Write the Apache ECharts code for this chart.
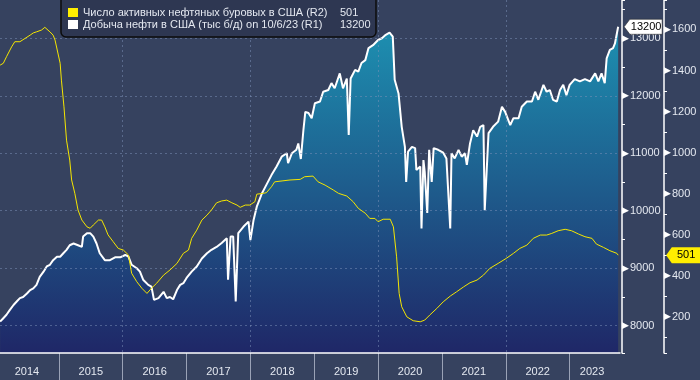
<!DOCTYPE html>
<html>
<head>
<meta charset="utf-8">
<script src="https://cdn.jsdelivr.net/npm/echarts@6/dist/echarts.min.js"></script>
<style>
html,body{margin:0;padding:0;background:#36425f;}
#c{width:700px;height:380px;}
</style>
</head>
<body>
<div id="c"></div>
<script>
// ---- Data (x = decimal year) ----
const prodX = [2014.08,2014.13,2014.18,2014.23,2014.29,2014.34,2014.39,2014.44,2014.50,2014.55,2014.60,2014.65,2014.70,2014.76,2014.81,2014.86,2014.91,2014.97,2015.02,2015.07,2015.12,2015.17,2015.23,2015.30,2015.36,2015.38,2015.44,2015.49,2015.54,2015.59,2015.64,2015.72,2015.80,2015.88,2015.96,2016.04,2016.09,2016.14,2016.22,2016.27,2016.32,2016.40,2016.45,2016.49,2016.56,2016.64,2016.69,2016.74,2016.79,2016.85,2016.90,2016.95,2017.00,2017.08,2017.16,2017.24,2017.32,2017.39,2017.47,2017.55,2017.63,2017.65,2017.69,2017.73,2017.77,2017.81,2017.89,2017.97,2018.00,2018.05,2018.10,2018.18,2018.25,2018.33,2018.41,2018.49,2018.57,2018.59,2018.65,2018.72,2018.75,2018.79,2018.83,2018.86,2018.91,2018.96,2019.01,2019.09,2019.14,2019.22,2019.27,2019.32,2019.40,2019.45,2019.51,2019.54,2019.57,2019.64,2019.69,2019.74,2019.80,2019.85,2019.92,2020.00,2020.06,2020.12,2020.18,2020.23,2020.26,2020.32,2020.37,2020.42,2020.44,2020.47,2020.53,2020.58,2020.60,2020.66,2020.68,2020.71,2020.73,2020.77,2020.80,2020.84,2020.87,2020.94,2021.02,2021.07,2021.13,2021.15,2021.20,2021.26,2021.31,2021.36,2021.39,2021.44,2021.49,2021.55,2021.60,2021.65,2021.67,2021.73,2021.80,2021.88,2021.94,2021.99,2022.07,2022.12,2022.20,2022.25,2022.33,2022.41,2022.46,2022.51,2022.59,2022.64,2022.69,2022.74,2022.80,2022.85,2022.90,2022.95,2023.00,2023.08,2023.16,2023.24,2023.32,2023.40,2023.45,2023.50,2023.55,2023.58,2023.63,2023.68,2023.71,2023.74,2023.76];
const prodY = [8070,8130,8190,8270,8360,8420,8480,8500,8560,8620,8650,8710,8850,8940,9030,9060,9140,9200,9200,9260,9320,9400,9430,9400,9370,9550,9610,9610,9550,9430,9260,9140,9140,9190,9190,9230,9200,9060,9000,8940,8800,8710,8680,8450,8480,8590,8480,8500,8460,8620,8710,8740,8830,8940,9030,9170,9260,9320,9370,9440,9520,8800,9550,9550,8420,9610,9720,9810,9490,9840,10070,10300,10450,10620,10770,10940,11000,10830,11000,11060,11170,10900,11400,11720,11700,11610,11870,11900,12070,12100,12220,12130,12390,12130,12300,11320,12300,12450,12420,12570,12620,12830,12880,12970,13000,13060,13100,13030,12280,12040,11460,11110,10500,11030,11110,11090,10710,10770,9690,10880,10680,9960,11060,10500,11090,11060,11010,10910,9690,11000,10910,11060,10940,11000,10800,11170,11400,11290,11460,11490,10010,11350,11460,11550,11810,11720,11490,11610,11610,11810,11900,11900,12070,11930,12190,12070,12100,11930,11900,12100,12190,12010,12190,12290,12250,12290,12250,12390,12250,12390,12220,12650,12800,12830,12910,12910,13200];

const rigX = [2014.08,2014.13,2014.18,2014.26,2014.31,2014.39,2014.47,2014.55,2014.60,2014.65,2014.73,2014.78,2014.86,2014.91,2014.94,2014.97,2015.02,2015.04,2015.08,2015.12,2015.17,2015.20,2015.25,2015.30,2015.36,2015.44,2015.49,2015.54,2015.62,2015.67,2015.72,2015.77,2015.85,2015.93,2016.01,2016.09,2016.14,2016.22,2016.30,2016.38,2016.45,2016.53,2016.64,2016.74,2016.85,2016.95,2017.03,2017.08,2017.16,2017.24,2017.32,2017.39,2017.47,2017.55,2017.63,2017.71,2017.79,2017.84,2017.92,2017.99,2018.07,2018.10,2018.20,2018.25,2018.33,2018.38,2018.51,2018.62,2018.78,2018.85,2018.98,2019.06,2019.17,2019.30,2019.38,2019.51,2019.61,2019.69,2019.80,2019.87,2019.95,2020.00,2020.08,2020.19,2020.24,2020.29,2020.33,2020.37,2020.45,2020.55,2020.66,2020.73,2020.81,2020.92,2021.02,2021.13,2021.23,2021.34,2021.44,2021.55,2021.65,2021.75,2021.88,2022.01,2022.12,2022.22,2022.33,2022.43,2022.54,2022.64,2022.72,2022.82,2022.93,2023.03,2023.14,2023.24,2023.35,2023.42,2023.53,2023.63,2023.74,2023.76];
const rigY = [1426,1435,1467,1515,1540,1540,1556,1572,1583,1588,1597,1610,1588,1572,1548,1540,1435,1353,1223,1061,964,867,802,721,672,639,632,648,672,672,639,600,567,534,526,502,413,372,340,315,340,364,404,429,461,510,526,583,623,672,696,721,756,765,769,756,745,734,745,745,761,798,802,805,834,858,863,867,870,883,886,858,842,818,802,789,761,729,705,680,680,664,676,676,639,493,315,250,201,182,177,185,210,242,274,302,323,347,367,380,404,437,461,486,510,534,550,583,599,599,607,620,627,620,604,591,583,555,539,523,510,501];

const rigName = 'Число активных нефтяных буровых в США (R2)';
const prodName = 'Добыча нефти в США (тыс б/д) on 10/6/23 (R1)';
const rigLast = 501;
const prodLast = 13200;

const X_MIN = 2014.078, X_MAX = 2023.789;
const R1_MIN = 7525, R1_MAX = 13666;
const R2_MIN = 25, R2_MAX = 1743;

const prodData = prodX.map((x, i) => [x, prodY[i]]);
const rigData = rigX.map((x, i) => [x, rigY[i]]);

const FONT = 'Liberation Sans, Arial, sans-serif';
const TXT = '#e4e8f0';
const GRIDC = 'rgba(125,145,185,0.5)';

function arrowLabel(v) { return '{t|▶}{v|' + v + '}'; }
const arrowRich = {
  t: { fontFamily: 'DejaVu Sans', fontSize: 9, color: '#ffffff', padding: [0, 1, 0, 0] },
  v: { fontFamily: FONT, fontSize: 11, color: TXT }
};

const chart = echarts.init(document.getElementById('c'), null, { renderer: 'canvas' });
chart.setOption({
  backgroundColor: '#36425f',
  animation: false,
  grid: [
    { left: 0, right: 80, top: 0, bottom: 27 },
    { left: 0, right: 80, top: 353, height: 27 }
  ],
  xAxis: [
    { // main, 2-year dashed grid lines
      type: 'value', gridIndex: 0, min: X_MIN, max: X_MAX, minInterval: 2, maxInterval: 2, z: 3,
      axisLine: { show: true, onZero: false, lineStyle: { color: '#ffffff', width: 1.5 } },
      axisTick: { show: false }, axisLabel: { show: false },
      splitLine: { show: true, showMinLine: false, showMaxLine: false, lineStyle: { color: GRIDC, type: [2, 3], width: 1 } }
    },
    { // year separators
      type: 'value', gridIndex: 1, min: X_MIN, max: X_MAX, minInterval: 1, maxInterval: 1,
      axisLine: { show: false }, axisTick: { show: false }, axisLabel: { show: false },
      splitLine: { show: true, showMinLine: false, showMaxLine: false, lineStyle: { color: '#9aa2b6', width: 1 } }
    },
    { // year labels centered in the years (shifted by half year)
      type: 'value', gridIndex: 1, min: X_MIN - 0.5, max: X_MAX - 0.5, minInterval: 1, maxInterval: 1,
      position: 'bottom',
      axisLine: { show: false }, axisTick: { show: false }, splitLine: { show: false },
      axisLabel: {
        show: true, inside: true, margin: 3, showMinLabel: false, showMaxLabel: false,
        color: TXT, fontFamily: FONT, fontSize: 11,
        formatter: function (v) { return v === 2023 ? '{s|2023}' : String(v); },
        rich: { s: { color: TXT, fontFamily: FONT, fontSize: 11, padding: [0, 19, 0, 0] } }
      }
    }
  ],
  yAxis: [
    { // R1 production
      type: 'value', gridIndex: 0, position: 'right', offset: 2, min: R1_MIN, max: R1_MAX,
      minInterval: 1000, maxInterval: 1000, z: 3,
      axisLine: { show: true, onZero: false, lineStyle: { color: '#ffffff', width: 1.5 } },
      axisTick: { show: false },
      axisLabel: { show: true, margin: 0, showMinLabel: false, showMaxLabel: false, formatter: arrowLabel, rich: arrowRich },
      splitLine: { show: true, showMinLine: false, showMaxLine: false, lineStyle: { color: GRIDC, type: [2, 3], width: 1 } }
    },
    { // R2 rigs
      type: 'value', gridIndex: 0, position: 'right', offset: 44, min: R2_MIN, max: R2_MAX,
      minInterval: 200, maxInterval: 200, z: 3,
      axisLine: { show: true, onZero: false, lineStyle: { color: '#ffffff', width: 1.5 } },
      axisTick: { show: false },
      axisLabel: { show: true, margin: 0, showMinLabel: false, showMaxLabel: false, formatter: arrowLabel, rich: arrowRich },
      splitLine: { show: false }
    },
    { // R1 minor ticks
      type: 'value', gridIndex: 0, position: 'right', offset: 2, min: R1_MIN, max: R1_MAX,
      minInterval: 500, maxInterval: 500,
      axisLine: { show: false }, axisLabel: { show: false }, splitLine: { show: false },
      axisTick: { show: true, length: 3, lineStyle: { color: '#ffffff', width: 1 } }
    },
    { // R2 minor ticks
      type: 'value', gridIndex: 0, position: 'right', offset: 44, min: R2_MIN, max: R2_MAX,
      minInterval: 100, maxInterval: 100,
      axisLine: { show: false }, axisLabel: { show: false }, splitLine: { show: false },
      axisTick: { show: true, length: 3, lineStyle: { color: '#ffffff', width: 1 } }
    },
    { type: 'value', gridIndex: 1, show: false, min: 0, max: 1 }
  ],
  series: [
    {
      name: prodName, type: 'line', xAxisIndex: 0, yAxisIndex: 0, data: prodData,
      showSymbol: false, symbol: 'none', z: 2,
      lineStyle: { color: '#ffffff', width: 2 },
      itemStyle: { color: '#ffffff' },
      areaStyle: {
        color: new echarts.graphic.LinearGradient(0, 0, 0, 1, [
          { offset: 0, color: '#1d90b1' },
          { offset: 1, color: '#1f2767' }
        ]),
        opacity: 1
      },
      markPoint: {
        symbol: 'path://M0,7.5L6,0H40V15H6Z', symbolSize: [38, 15], symbolKeepAspect: false,
        symbolOffset: [25, 0],
        itemStyle: { color: '#ffffff', borderColor: '#222', borderWidth: 0.5 },
        label: { show: true, position: 'inside', offset: [3, 0], color: '#000', fontFamily: FONT, fontSize: 11, formatter: String(prodLast) },
        data: [{ coord: [prodX[prodX.length - 1], prodLast], value: prodLast }]
      }
    },
    {
      name: rigName, type: 'line', xAxisIndex: 0, yAxisIndex: 1, data: rigData,
      showSymbol: false, symbol: 'none', z: 5,
      lineStyle: { color: '#f5e600', width: 1 },
      itemStyle: { color: '#f5e600' },
      markPoint: {
        symbol: 'path://M0,8L6,0H36V16H6Z', symbolSize: [34, 16], symbolKeepAspect: false,
        symbolOffset: [65, 0],
        itemStyle: { color: '#ffee00' },
        label: { show: true, position: 'inside', offset: [3, 0], color: '#000', fontFamily: FONT, fontSize: 11, formatter: String(rigLast) },
        data: [{ coord: [rigX[rigX.length - 1], rigLast], value: rigLast }]
      }
    }
  ],
  graphic: [
    { type: 'rect', z: 100, shape: { x: 61, y: -5, width: 315, height: 42, r: 5 }, style: { fill: '#2e3752', stroke: '#0c0c0c', lineWidth: 1.5 } },
    { type: 'rect', z: 101, shape: { x: 68, y: 8, width: 10, height: 9 }, style: { fill: '#ffee00' } },
    { type: 'rect', z: 101, shape: { x: 68, y: 20, width: 10, height: 9 }, style: { fill: '#ffffff' } },
    { type: 'text', z: 101, x: 83, y: 12.5, style: { text: rigName, fill: TXT, font: '11px ' + FONT, verticalAlign: 'middle' } },
    { type: 'text', z: 101, x: 340, y: 12.5, style: { text: String(rigLast), fill: TXT, font: '11px ' + FONT, verticalAlign: 'middle' } },
    { type: 'text', z: 101, x: 83, y: 25, style: { text: prodName, fill: TXT, font: '11px ' + FONT, verticalAlign: 'middle' } },
    { type: 'text', z: 101, x: 340, y: 25, style: { text: String(prodLast), fill: TXT, font: '11px ' + FONT, verticalAlign: 'middle' } }
  ]
});
</script>
</body>
</html>
